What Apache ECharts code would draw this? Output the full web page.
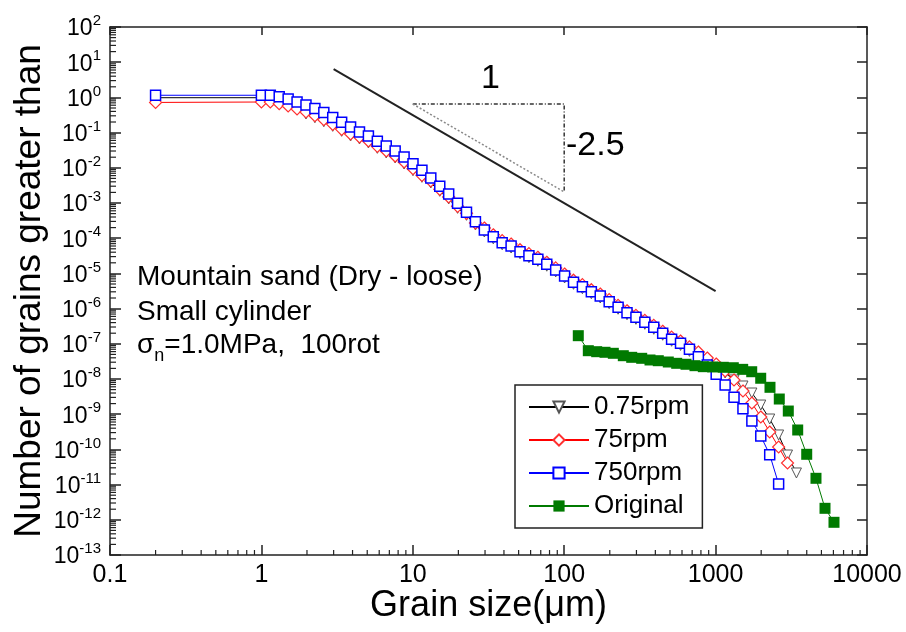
<!DOCTYPE html>
<html>
<head>
<meta charset="utf-8">
<script src="https://cdn.jsdelivr.net/npm/echarts@6/dist/echarts.min.js"></script>
<style>
html, body { margin: 0; padding: 0; background: #fff; }
#chart { width: 906px; height: 632px; }
</style>
</head>
<body>
<div id="chart"></div>
<script>
// grain size bins (um) shared by the three crushed samples
const sizes = [0.2, 1, 1.145, 1.311, 1.502, 1.72, 1.97, 2.256, 2.584, 2.959, 3.389,
    3.882, 4.445, 5.091, 5.831, 6.677, 7.647, 8.758, 10.03, 11.49, 13.15,
    15.07, 17.26, 19.76, 22.63, 25.92, 29.69, 34.0, 38.94, 44.59, 51.07,
    58.48, 66.98, 76.71, 87.85, 100.6, 115.2, 131.9, 151.1, 173.0, 198.2,
    227.0, 259.9, 297.7, 340.9, 390.5, 447.2, 512.1, 586.5, 671.7, 769.3,
    881.0, 1009, 1156, 1323, 1516, 1736, 1988, 2277, 2608, 2986, 3420];

const rpm075 = [0.98, 0.98, 0.92, 0.78, 0.62, 0.44, 0.337, 0.265, 0.204, 0.151, 0.109,
    0.080, 0.0658, 0.0507, 0.0358, 0.0263, 0.019, 0.0128, 0.00828, 0.00537, 0.0037,
    0.00215, 0.0013, 7.06e-4, 4.47e-4, 2.37e-4, 1.5e-4, 9.6e-5, 6.5e-5, 5.26e-5, 3.62e-5,
    2.79e-5, 2.21e-5, 1.6e-5, 1.1e-5, 7.4e-6, 4.9e-6, 3.67e-6, 2.65e-6, 2.0e-6, 1.38e-6,
    9.6e-7, 6.7e-7, 4.96e-7, 3.58e-7, 2.58e-7, 1.75e-7, 1.18e-7, 9.0e-8, 6.1e-8, 4.22e-8,
    3.04e-8, 2.19e-8, 1.48e-8, 9.37e-9, 6.33e-9, 4.0e-9, 1.82e-9, 7.3e-10, 2.57e-10, 6.93e-11,
    2.14e-11];

const rpm75 = [0.72, 0.74, 0.74, 0.66, 0.57, 0.468, 0.385, 0.302, 0.232, 0.172, 0.124,
    0.0912, 0.075, 0.0577, 0.0408, 0.03, 0.0216, 0.0146, 0.00942, 0.00612, 0.00422,
    0.00245, 0.00148, 8.05e-4, 5.09e-4, 2.7e-4, 1.95e-4, 1.25e-4, 8.5e-5, 6.84e-5, 4.71e-5,
    3.63e-5, 2.87e-5, 2.07e-5, 1.43e-5, 9.6e-6, 6.4e-6, 4.78e-6, 3.44e-6, 2.6e-6, 1.79e-6,
    1.24e-6, 8.7e-7, 6.45e-7, 4.65e-7, 3.35e-7, 2.27e-7, 1.55e-7, 1.2e-7, 8.2e-8, 5.85e-8,
    3.95e-8, 2.67e-8, 1.69e-8, 9.37e-9, 4.56e-9, 2.08e-9, 8.32e-10, 3.12e-10, 1.17e-10, 4.11e-11];

const rpm750 = [1.15, 1.15, 1.15, 1.05, 0.9, 0.74, 0.61, 0.48, 0.37, 0.27, 0.196,
    0.144, 0.104, 0.08, 0.0566, 0.0416, 0.03, 0.0203, 0.0131, 0.0085, 0.0051,
    0.00298, 0.0018, 9.8e-4, 5.44e-4, 2.95e-4, 1.71e-4, 1.1e-4, 7.45e-5, 6.0e-5, 4.13e-5,
    3.18e-5, 2.52e-5, 1.82e-5, 1.25e-5, 8.44e-6, 5.59e-6, 4.19e-6, 3.02e-6, 2.28e-6, 1.57e-6,
    1.09e-6, 7.65e-7, 5.66e-7, 4.08e-7, 2.94e-7, 1.99e-7, 1.34e-7, 1.03e-7, 6.98e-8, 4.31e-8,
    2.5e-8, 1.36e-8, 6.76e-9, 3.02e-9, 1.43e-9, 6.41e-10, 2.4e-10, 7.08e-11, 1.04e-11];

const origSizes = [123.9, 144.3, 163.9, 186.0, 211.1, 245.7, 279.2, 325.0, 368.7, 418.3,
    487.0, 553.4, 637.6, 730.9, 829.5, 956.8, 1124, 1309, 1510, 1732,
    1986, 2287, 2634, 3021, 3486, 3998, 4603, 5280, 6053];
const origCount = [1.7e-7, 6.37e-8, 5.97e-8, 5.74e-8, 5.37e-8, 4.59e-8, 4.13e-8, 3.87e-8, 3.47e-8, 3.31e-8,
    3.04e-8, 2.79e-8, 2.62e-8, 2.39e-8, 2.24e-8, 2.2e-8, 2.15e-8, 2.09e-8, 1.88e-8, 1.61e-8,
    1.05e-8, 5.81e-9, 2.7e-9, 1.23e-9, 3.56e-10, 7.26e-11, 1.51e-11, 2.12e-12, 8.49e-13];

// slope -2.5 guide and its triangle
const guideX = [3, 1000];
const guideY = [6.4, 3.16e-6];
const triX = [10, 100, 100];
const triY = [0.65, 0.65, 0.002055];

const xTickLabels = ['0.1', '1', '10', '100', '1000', '10000'];
const yTickExps = [2, 1, 0, -1, -2, -3, -4, -5, -6, -7, -8, -9, -10, -11, -12, -13];
const minorMult = [2, 3, 4, 5, 6, 7, 8, 9];

const FONT = 'Liberation Sans, Arial, sans-serif';

function pairs(xs, ys) {
    return ys.map((y, i) => [xs[i], y]);
}

// minor ticks at 2..9 of every decade
const xMinor = [];
[0.1, 1, 10, 100, 1000].forEach(d => minorMult.forEach(m => xMinor.push([d * m, 1e-13])));
const yMinor = [];
for (let e = -13; e < 2; e++) {
    minorMult.forEach(m => yMinor.push([0.1, m * Math.pow(10, e)]));
}

const chartDom = document.getElementById('chart');
const myChart = echarts.init(chartDom);

const frame = { show: true, onZero: false, lineStyle: { color: '#222', width: 1.5 } };

const option = {
    animation: false,
    textStyle: { fontFamily: FONT },
    grid: { left: 110, right: 39, top: 27, bottom: 77, outerBoundsMode: 'none', containLabel: false },
    legend: {
        orient: 'vertical',
        left: 515,
        top: 385,
        padding: [9, 13, 9, 13],
        borderColor: '#222',
        borderWidth: 1.5,
        itemWidth: 60,
        itemHeight: 14,
        itemGap: 7,
        textStyle: { fontSize: 26, lineHeight: 26, color: '#000', fontFamily: FONT },
        data: ['0.75rpm', '75rpm', '750rpm', 'Original']
    },
    xAxis: [{
        type: 'log',
        min: 0.1,
        max: 10000,
        interval: 1,
        name: 'Grain size(\u03bcm)',
        nameLocation: 'middle',
        nameGap: 33,
        nameMoveOverlap: false,
        nameTextStyle: { fontSize: 36, color: '#000', fontFamily: FONT },
        axisLine: frame,
        axisTick: { inside: true, length: 10, lineStyle: { color: '#222', width: 1.5 } },
        axisLabel: {
            fontSize: 25, color: '#000', margin: 8,
            formatter: (v, i) => xTickLabels[i]
        },
        splitLine: { show: false }
    }, {
        type: 'log',
        position: 'top',
        min: 0.1,
        max: 10000,
        interval: 1,
        axisLine: frame,
        axisTick: { inside: true, length: 8, lineStyle: { color: '#222', width: 1.5 } },
        axisLabel: { show: false },
        splitLine: { show: false }
    }],
    yAxis: [{
        type: 'log',
        min: 1e-13,
        max: 100,
        interval: 1,
        name: 'Number of grains greater than',
        nameLocation: 'middle',
        nameGap: 62,
        nameMoveOverlap: false,
        nameRotate: 90,
        nameTextStyle: { fontSize: 37, color: '#000', fontFamily: FONT },
        axisLine: frame,
        axisTick: { inside: true, length: 11, lineStyle: { color: '#222', width: 1.5 } },
        axisLabel: {
            margin: 9,
            color: '#000',
            formatter: (v, i) => '{b|10}{s|' + yTickExps[yTickExps.length - 1 - i] + '}',
            rich: {
                b: { fontSize: 23, fontFamily: FONT, color: '#000', verticalAlign: 'bottom' },
                s: { fontSize: 15, fontFamily: FONT, color: '#000', verticalAlign: 'bottom', padding: [0, 0, 12, 0] }
            }
        },
        splitLine: { show: false }
    }, {
        type: 'log',
        position: 'right',
        min: 1e-13,
        max: 100,
        interval: 1,
        axisLine: frame,
        axisTick: { inside: true, length: 10, lineStyle: { color: '#222', width: 1.5 } },
        axisLabel: { show: false },
        splitLine: { show: false }
    }],
    graphic: [{
        type: 'text', left: 137, top: 263,
        style: { text: 'Mountain sand (Dry - loose)', font: '28px ' + FONT, fill: '#000' }
    }, {
        type: 'text', left: 137, top: 298,
        style: { text: 'Small cylinder', font: '28px ' + FONT, fill: '#000' }
    }, {
        type: 'text', left: 137, top: 331,
        style: {
            text: '{a|\u03c3}{n|n}{a|=1.0MPa,  100rot}',
            rich: {
                a: { fontSize: 28, fontFamily: FONT, fill: '#000', verticalAlign: 'bottom' },
                n: { fontSize: 18, fontFamily: FONT, fill: '#000', verticalAlign: 'bottom', padding: [0, 0, -6, 0] }
            }
        }
    }, {
        type: 'text', left: 481, top: 62,
        style: { text: '1', font: '34px ' + FONT, fill: '#000' }
    }, {
        type: 'text', left: 566, top: 129,
        style: { text: '-2.5', font: '34px ' + FONT, fill: '#000' }
    }],
    series: [{
        type: 'custom',
        silent: true,
        data: xMinor,
        renderItem: (params, api) => {
            const p = api.coord([api.value(0), api.value(1)]);
            return { type: 'line', shape: { x1: p[0], y1: p[1], x2: p[0], y2: p[1] - 5 },
                style: { stroke: '#222', lineWidth: 1.2 } };
        },
        z: 1
    }, {
        type: 'custom',
        silent: true,
        data: yMinor,
        renderItem: (params, api) => {
            const p = api.coord([api.value(0), api.value(1)]);
            return { type: 'line', shape: { x1: p[0], y1: p[1], x2: p[0] + 6, y2: p[1] },
                style: { stroke: '#222', lineWidth: 1.2 } };
        },
        z: 1
    }, {
        type: 'line',
        data: pairs(guideX, guideY),
        symbol: 'none',
        lineStyle: { color: '#222', width: 2 },
        z: 2
    }, {
        type: 'line',
        data: pairs(triX, triY),
        symbol: 'none',
        lineStyle: { color: '#333', width: 1.5, type: [4, 2, 1, 2] },
        z: 2
    }, {
        type: 'line',
        data: [[triX[0], triY[0]], [triX[2], triY[2]]],
        symbol: 'none',
        lineStyle: { color: '#888', width: 1.5, type: [2, 2] },
        z: 2
    }, {
        name: '0.75rpm',
        type: 'line',
        data: pairs(sizes, rpm075),
        symbol: 'triangle',
        symbolRotate: 180,
        symbolSize: 10,
        itemStyle: { color: '#fff', borderColor: '#555', borderWidth: 1 },
        lineStyle: { color: '#000', width: 1 },
        z: 3
    }, {
        name: '75rpm',
        type: 'line',
        data: pairs(sizes, rpm75),
        symbol: 'diamond',
        symbolSize: 12,
        itemStyle: { color: '#fff', borderColor: '#ff3030', borderWidth: 1.2 },
        lineStyle: { color: '#ff0000', width: 1 },
        z: 4
    }, {
        name: '750rpm',
        type: 'line',
        data: pairs(sizes, rpm750),
        symbol: 'rect',
        symbolSize: 10,
        itemStyle: { color: '#fff', borderColor: '#0000ff', borderWidth: 1.5 },
        lineStyle: { color: '#0000ff', width: 1 },
        z: 5
    }, {
        name: 'Original',
        type: 'line',
        data: pairs(origSizes, origCount),
        symbol: 'rect',
        symbolSize: 11,
        itemStyle: { color: '#007a00', borderColor: '#007a00', borderWidth: 0 },
        lineStyle: { color: '#007a00', width: 1 },
        z: 6
    }]
};
myChart.setOption(option);
</script>
</body>
</html>
